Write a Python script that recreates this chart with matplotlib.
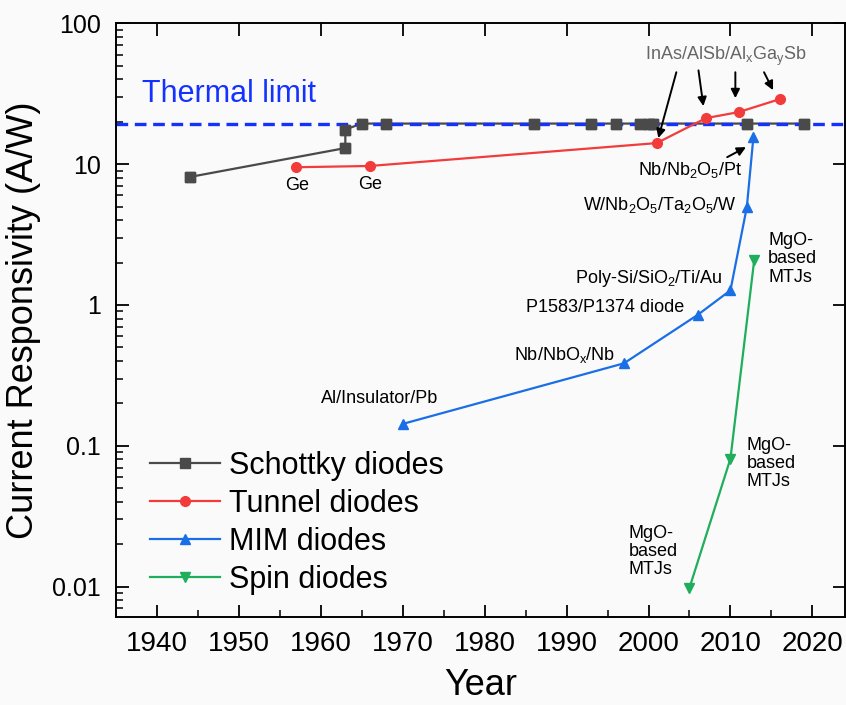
import numpy as np
import matplotlib
matplotlib.use('Agg')
import matplotlib.pyplot as plt
from matplotlib.ticker import MultipleLocator, LogLocator, NullFormatter

plt.rcParams['font.family'] = ['Liberation Sans', 'DejaVu Sans']
plt.rcParams['mathtext.default'] = 'regular'

# data
schottky_year = [1944, 1963, 1963, 1965, 1968, 1986, 1993, 1996, 1999, 2000, 2000.6, 2012, 2019]
schottky_resp = [8.1, 13.0, 17.6, 19.4, 19.4, 19.4, 19.4, 19.4, 19.4, 19.4, 19.4, 19.4, 19.4]

tunnel_year = [1957, 1966, 2001, 2007, 2011, 2016]
tunnel_resp = [9.5, 9.7, 14.1, 21.2, 23.4, 28.9]

mim_year = [1970, 1997, 2006, 2010, 2012, 2012.8]
mim_resp = [0.143, 0.385, 0.85, 1.27, 4.95, 15.5]

spin_year = [2005, 2010, 2012.9]
spin_resp = [0.0098, 0.081, 2.08]

thermal_limit = 19.4

c_sch = '#4a4a4a'
c_tun = '#f23c3c'
c_mim = '#1a6ee6'
c_spin = '#1fae5c'
c_therm = '#1432ff'

fig = plt.figure(figsize=(8.46, 7.05), dpi=100, facecolor='#fafafa')
ax = fig.add_axes([0.137, 0.125, 0.862, 0.842])
ax.set_facecolor('#fafafa')

lw = 1.6
ms = 7
ax.plot(schottky_year, schottky_resp, '-s', color=c_sch, lw=lw, ms=ms, label='Schottky diodes', zorder=2)
ax.axhline(thermal_limit, color=c_therm, ls=(0, (3.5, 2)), lw=2.4, zorder=2.5)
ax.plot(schottky_year, schottky_resp, 's', color=c_sch, ms=ms, zorder=3)
ax.plot(tunnel_year, tunnel_resp, '-o', color=c_tun, lw=lw, ms=ms, label='Tunnel diodes', zorder=3)
ax.plot(mim_year, mim_resp, '-^', color=c_mim, lw=lw, ms=ms, label='MIM diodes', zorder=3)
ax.plot(spin_year, spin_resp, '-v', color=c_spin, lw=lw, ms=ms, label='Spin diodes', zorder=3)

ax.set_yscale('log')
ax.set_xlim(1935, 2024)
ax.set_ylim(0.0061, 100)

ax.xaxis.set_major_locator(MultipleLocator(10))
ax.xaxis.set_minor_locator(MultipleLocator(5))
ax.yaxis.set_minor_locator(LogLocator(base=10, subs=np.arange(2, 10), numticks=20))
ax.yaxis.set_minor_formatter(NullFormatter())
ax.set_yticks([0.01, 0.1, 1, 10, 100])
ax.set_yticklabels(['0.01', '0.1', '1', '10', '100'])

ax.tick_params(which='major', direction='in', length=9, width=1.3, top=True, right=True)
ax.tick_params(which='minor', direction='in', length=5, width=1.1, top=False, right=False)
ax.tick_params(axis='y', labelsize=18, pad=11)
ax.tick_params(axis='x', labelsize=20, pad=10)
for s in ax.spines.values():
    s.set_linewidth(1.4)

ax.set_xlabel('Year', fontsize=26, labelpad=8)
ax.set_ylabel('Current Responsivity (A/W)', fontsize=26, labelpad=8)

ax.text(1938.2, 31.3, 'Thermal limit', color=c_therm, fontsize=22, va='center', ha='left')

fs = 13
ax.text(1957.1, 7.0, 'Ge', fontsize=fs, ha='center', va='center')
ax.text(1966.0, 7.2, 'Ge', fontsize=fs, ha='center', va='center')

ax.text(2009.4, 58.3, 'InAs/AlSb/Al$_x$Ga$_y$Sb', fontsize=fs, ha='center', va='center', color='#666666')
arrows = [((2003.4, 44.9), (2001.2, 15.3)),
          ((2006.1, 46.3), (2006.7, 25.8)),
          ((2010.6, 44.9), (2010.6, 29.4)),
          ((2014.1, 44.9), (2015.2, 33.5))]
for tail, head in arrows:
    ax.annotate('', xy=head, xytext=tail,
                arrowprops=dict(arrowstyle='-|>', color='black', lw=1.4, mutation_scale=13, shrinkA=0, shrinkB=0))

ax.text(2005.1, 9.06, 'Nb/Nb$_2$O$_5$/Pt', fontsize=fs, ha='center', va='center')
ax.annotate('', xy=(2011.9, 13.2), xytext=(2009.6, 11.2),
            arrowprops=dict(arrowstyle='-|>', color='black', lw=1.4, mutation_scale=13, shrinkA=0, shrinkB=0))

ax.text(2010.8, 5.12, 'W/Nb$_2$O$_5$/Ta$_2$O$_5$/W', fontsize=fs, ha='right', va='center')
ax.text(2009.0, 1.53, 'Poly-Si/SiO$_2$/Ti/Au', fontsize=fs, ha='right', va='center')
ax.text(2004.4, 0.953, 'P1583/P1374 diode', fontsize=fs, ha='right', va='center')
ax.text(1995.9, 0.442, 'Nb/NbO$_x$/Nb', fontsize=fs, ha='right', va='center')
ax.text(1974.3, 0.215, 'Al/Insulator/Pb', fontsize=fs, ha='right', va='center')

mtj = 'MgO-\nbased\nMTJs'
ax.text(2014.6, 3.3, mtj, fontsize=fs, ha='left', va='top', linespacing=1.1)
ax.text(2012.0, 0.116, mtj, fontsize=fs, ha='left', va='top', linespacing=1.1)
ax.text(1997.6, 0.0275, mtj, fontsize=fs, ha='left', va='top', linespacing=1.1)

ax.legend(loc='upper left', bbox_to_anchor=(0.03, 0.3), frameon=False, fontsize=22,
          handlelength=2.3, handletextpad=0.3, labelspacing=0.26, borderaxespad=0)

fig.savefig('out.png', dpi=100, facecolor=fig.get_facecolor())
